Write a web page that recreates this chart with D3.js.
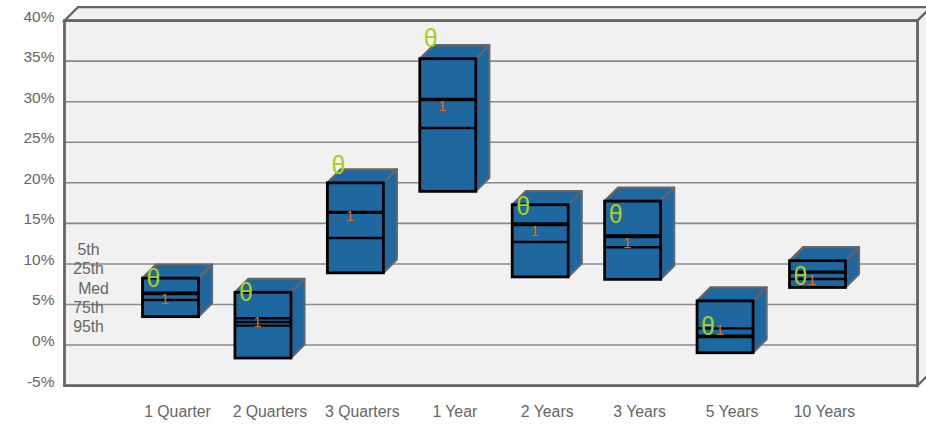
<!DOCTYPE html>
<html>
<head>
<meta charset="utf-8">
<script src="https://cdn.jsdelivr.net/npm/d3@7/dist/d3.min.js"></script>
<style>
html,body{margin:0;padding:0;background:#fff;overflow:hidden}
text{font-family:"Liberation Sans",Arial,sans-serif}
</style>
</head>
<body>
<svg id="chart" width="926" height="428"></svg>
<script>
const categories = ["1 Quarter","2 Quarters","3 Quarters","1 Year","2 Years","3 Years","5 Years","10 Years"];
const p5  = [8.25, 6.5, 20.0, 35.3, 17.3, 17.75, 5.45, 10.4];
const p25 = [6.45, 3.3, 16.4, 30.35, 15.0, 13.5, 2.05, 9.05];
const med = [6.3, 2.85, 16.3, 30.2, 14.8, 13.3, 1.15, 8.95];
const p75 = [5.55, 2.4, 13.2, 26.75, 12.7, 12.05, 1.0, 8.15];
const p95 = [3.5, -1.6, 8.9, 18.95, 8.4, 8.1, -0.95, 7.1];
const thetaValues = [8.25, 6.5, 22.15, 37.9, 17.2, 16.1, 2.35, 8.5];
const oneValues = [5.8, 2.85, 16.0, 29.55, 14.15, 12.7, 1.95, 8.1];
const yTicks = [-5,0,5,10,15,20,25,30,35,40];
const legendLabels = ["5th","25th","Med","75th","95th"];

const depth = 13.5, boxW = 56;
const colors = {wall:"#f1f1f1", frame:"#666666", grid:"#8a8a8a", text:"#666666", box:"#1f679f", theta:"#a8cf1e", one:"#d9701e"};

const svg = d3.select("#chart");
const y = d3.scaleLinear().domain([-5,40]).range([385.6,20.6]);
const x = d3.scaleBand().domain(categories).range([124.3,863.7]);
const left = 64.5, right = 917.5;
const fmt = d => d + "%";

// walls
svg.append("path").attr("d",`M${left},${y(40)}L${left+depth},${y(40)-depth}H${right+depth}L${right},${y(40)}Z`)
  .attr("fill",colors.wall).attr("stroke",colors.frame).attr("stroke-width",2.2);
svg.append("path").attr("d",`M${right},${y(40)}L${right+depth},${y(40)-depth}V${y(-5)-depth}L${right},${y(-5)}Z`)
  .attr("fill",colors.wall).attr("stroke",colors.frame).attr("stroke-width",2.2);
svg.append("rect").attr("x",left).attr("y",y(40)).attr("width",right-left).attr("height",y(-5)-y(40)).attr("fill",colors.wall);

// gridlines
svg.append("g").selectAll("line").data(yTicks.filter(t=>t>-5&&t<40)).join("line")
  .attr("x1",left).attr("x2",right).attr("y1",d=>y(d)).attr("y2",d=>y(d))
  .attr("stroke",colors.grid).attr("stroke-width",1.6);

// frame
svg.append("rect").attr("x",left).attr("y",y(40)).attr("width",right-left).attr("height",y(-5)-y(40))
  .attr("fill","none").attr("stroke",colors.frame).attr("stroke-width",2.8);

// y axis labels
const yAxis = d3.axisLeft(y).tickValues(yTicks).tickFormat(fmt).tickSize(0).tickPadding(10);
const yg = svg.append("g").attr("transform",`translate(${left},-4.5)`).call(yAxis);
yg.select(".domain").remove();
yg.selectAll("text").attr("fill",colors.text).attr("font-size",15.5).style("font-family",'"Liberation Sans",Arial,sans-serif');

// x axis labels
const xAxis = d3.axisBottom(x).tickSize(0).tickPadding(0);
const xg = svg.append("g").attr("transform","translate(7,406)").call(xAxis);
xg.select(".domain").remove();
xg.selectAll("text").attr("fill",colors.text).attr("font-size",15.8).style("font-family",'"Liberation Sans",Arial,sans-serif');

// boxes
const rows = categories.map((c,i)=>({c,i,top:p5[i],q1:p25[i],m:med[i],q3:p75[i],bot:p95[i]}));
const boxes = svg.append("g").selectAll("g").data(rows).join("g")
  .attr("transform",d=>`translate(${x(d.c)+x.bandwidth()/2-boxW/2},0)`);
boxes.append("path").attr("fill",colors.box).attr("stroke",colors.frame).attr("stroke-width",2.2)
  .attr("stroke-linejoin","round")
  .attr("d",d=>`M0,${y(d.top)}L${depth},${y(d.top)-depth}H${boxW+depth}L${boxW},${y(d.top)}Z`);
boxes.append("path").attr("fill",colors.box).attr("stroke",colors.frame).attr("stroke-width",2.2)
  .attr("stroke-linejoin","round")
  .attr("d",d=>`M${boxW},${y(d.top)}L${boxW+depth},${y(d.top)-depth}V${y(d.bot)-depth}L${boxW},${y(d.bot)}Z`);
boxes.append("rect").attr("width",boxW).attr("y",d=>y(d.top)).attr("height",d=>y(d.bot)-y(d.top))
  .attr("fill",colors.box).attr("stroke","#000").attr("stroke-width",2.8);
["q1","m","q3"].forEach(k=>{
  boxes.append("line").attr("x1",0).attr("x2",boxW).attr("y1",d=>y(d[k])).attr("y2",d=>y(d[k]))
    .attr("stroke","#000").attr("stroke-width",2.4);
});

// markers
svg.append("g").selectAll("text").data(thetaValues).join("text")
  .attr("x",(d,i)=>x(categories[i])+x.bandwidth()/2-17).attr("y",d=>y(d))
  .attr("text-anchor","middle").attr("dominant-baseline","central")
  .attr("font-size",25).attr("fill",colors.theta).text("θ");
svg.append("g").selectAll("text").data(oneValues).join("text")
  .attr("x",(d,i)=>x(categories[i])+x.bandwidth()/2-5.5).attr("y",d=>y(d))
  .attr("text-anchor","middle").attr("dominant-baseline","central")
  .attr("font-size",15).attr("fill",colors.one).text("1");

// legend
const legendScale = d3.scalePoint().domain(legendLabels).range([249.5,326.5]);
svg.append("g").selectAll("text").data(legendLabels).join("text")
  .attr("x",d=>d==="Med"?93.5:88.5).attr("y",d=>legendScale(d))
  .attr("text-anchor","middle").attr("dominant-baseline","central")
  .attr("font-size",15.8).attr("fill",colors.text).text(d=>d);
</script>
</body>
</html>
